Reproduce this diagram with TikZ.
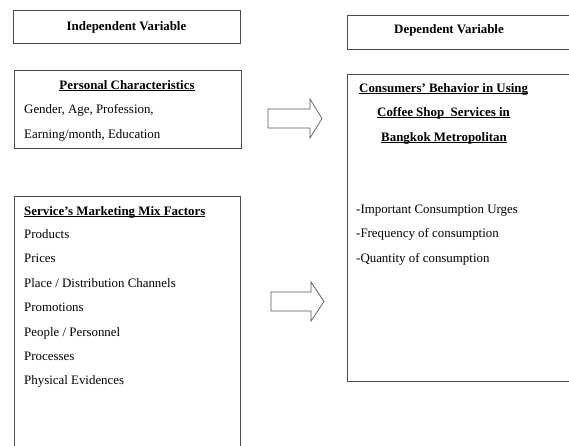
\documentclass[tikz,border=0pt]{standalone}
\usepackage{fontspec}
\setmainfont{Liberation Serif}
\usetikzlibrary{positioning}
\newcommand{\picfont}{\fontsize{12.9}{15}\selectfont}
\newcommand{\ulword}[1]{\underline{\smash{#1}}}
\tikzset{
  box/.style={draw=black!70,line width=0.9pt,anchor=north west,inner sep=0pt},
  hdr/.style={font=\picfont\bfseries,inner sep=0pt,anchor=base},
  txt/.style={font=\picfont,inner sep=0pt,anchor=base west},
  boldtxt/.style={txt,font=\picfont\bfseries},
  blockarrow/.style={draw=black!65,line width=0.7pt,fill=white,line join=miter},
}
\begin{document}
\begin{tikzpicture}[x=1pt,y=-1pt]
\useasboundingbox (0,0) rectangle (569,445);
\clip (0,0) rectangle (569,445);
% boxes
\node[box,minimum width=227pt,minimum height=33pt] (indep) at (13,10) {};
\node[box,minimum width=260pt,minimum height=34pt] (dep) at (347,15) {};
\node[box,minimum width=227pt,minimum height=78pt] (personal) at (14,70) {};
\node[box,minimum width=260pt,minimum height=307pt] (consumer) at (347,74) {};
\node[box,minimum width=226pt,minimum height=270pt] (mix) at (14,196) {};
% headings
\node[hdr] (indeptitle) at (126.5,30) {Independent Variable};
\node[hdr] (deptitle) at (449,33) {Dependent Variable};
% personal characteristics
\node[hdr] (perstitle) at (127,89) {\ulword{Personal Characteristics}};
\node[txt] (pers1) at (24,113) {Gender, Age, Profession,};
\node[txt] (pers2) at (24,138) {Earning/month, Education};
% consumers' behaviour
\node[boldtxt] (cons1) at (359,92) {\ulword{Consumers’ Behavior in Using}};
\node[boldtxt] (cons2) at (377,116) {\ulword{Coffee Shop\ \ Services in}};
\node[boldtxt] (cons3) at (381,141) {\ulword{Bangkok Metropolitan}};
\node[txt] (beh1) at (356,213) {-Important Consumption Urges};
\node[txt] (beh2) at (356,237) {-Frequency of consumption};
\node[txt] (beh3) at (356,262) {-Quantity of consumption};
% marketing mix
\node[boldtxt] (mixtitle) at (24,215) {\ulword{Service's Marketing Mix Factors}};
\foreach \t [count=\i] in {Products,Prices,Place / Distribution Channels,Promotions,People / Personnel,Processes,Physical Evidences}
  \node[txt] (mix\i) at (24,214+24.4*\i) {\t};
% block arrows
\coordinate (arrowone) at (268,118.5);
\coordinate (arrowtwo) at (271,301.5);
\draw[blockarrow] (arrowone) ++(0,-9.5) -- ++(42,0) -- ++(0,-10) -- ++(12,19.5) -- ++(-12,19.5) -- ++(0,-10) -- ++(-42,0) -- cycle;
\draw[blockarrow] (arrowtwo) ++(0,-9.5) -- ++(40,0) -- ++(0,-10) -- ++(13,19.5) -- ++(-13,19.5) -- ++(0,-10) -- ++(-40,0) -- cycle;
\end{tikzpicture}
\end{document}
